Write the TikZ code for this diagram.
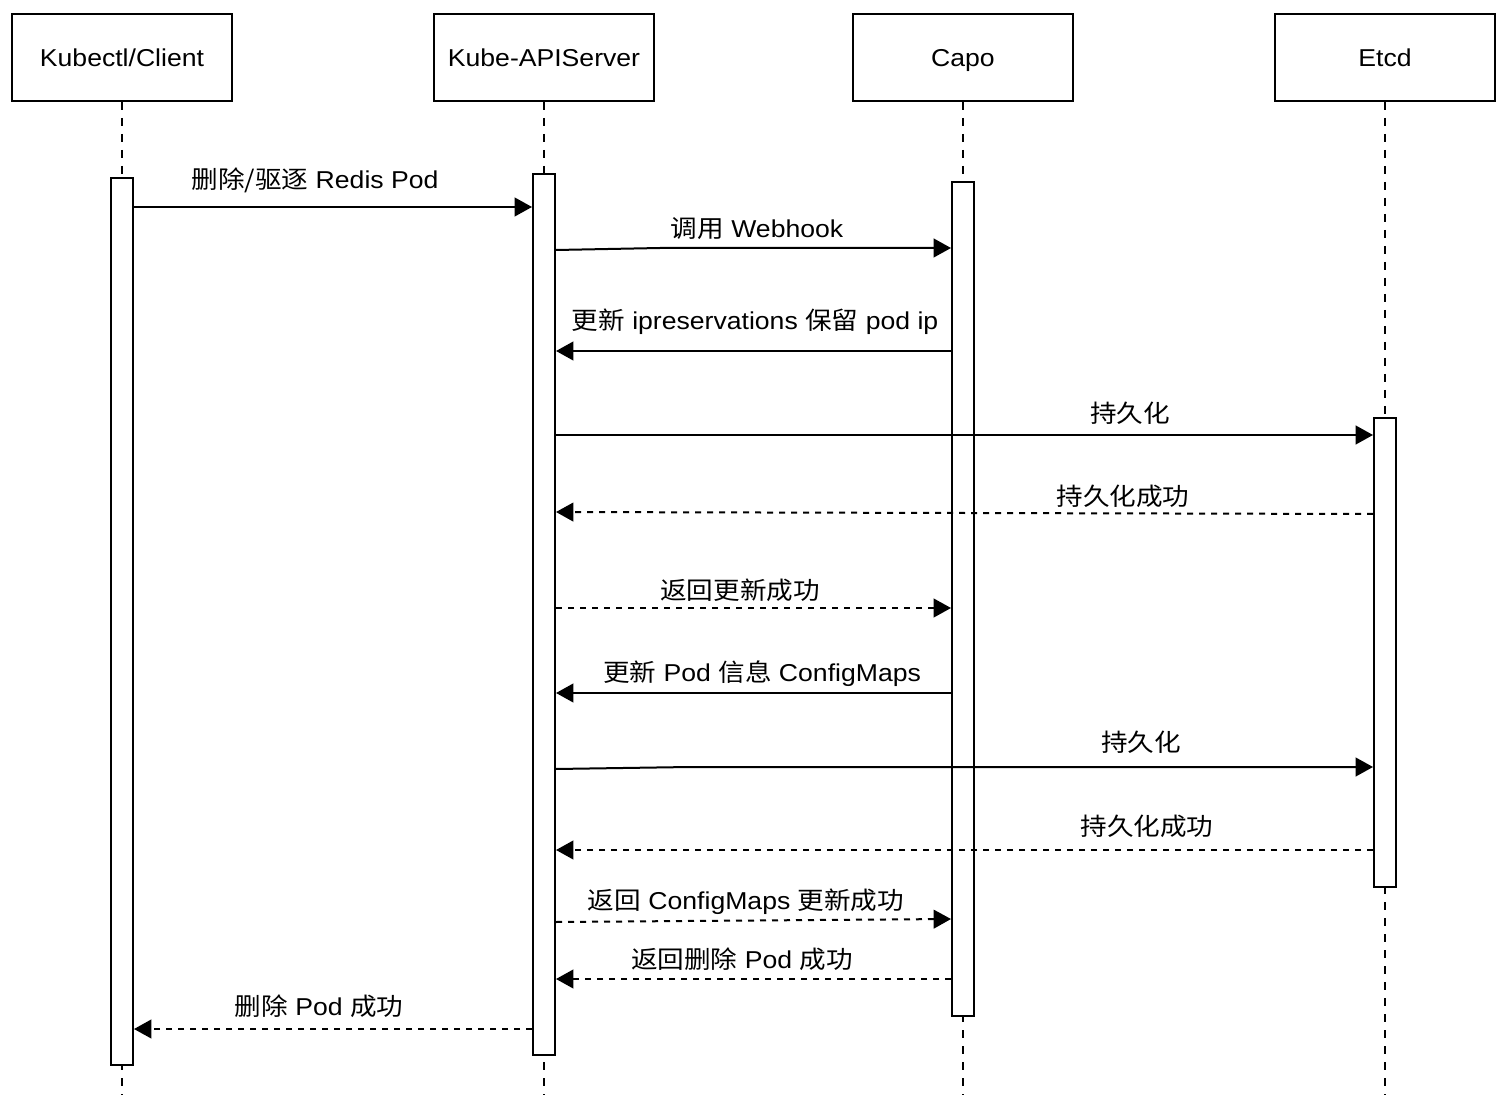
\documentclass[tikz,border=0pt]{standalone}
\usepackage{fontspec}
\setmainfont{Liberation Sans}[FakeStretch=1.09]
\newfontfamily\cjkfont{Noto Sans CJK SC}[FakeStretch=1.09]
\newcommand\zh[1]{{\cjkfont #1}}
\usetikzlibrary{arrows.meta}
\begin{document}
\begin{tikzpicture}[x=0.75pt,y=-0.75pt,
  every node/.style={font=\fontsize{18.3pt}{22pt}\selectfont},
  actor/.style={draw,line width=1.5pt,minimum width=165pt,minimum height=65.25pt,inner sep=0pt,text depth=0pt},
  bar/.style={draw,fill=white,line width=1.5pt,minimum width=16.5pt,inner sep=0pt},
  life/.style={line width=1.2pt,dash pattern=on 6pt off 6pt},
  msg/.style={line width=1.5pt,-{Triangle[length=13pt,width=14pt]}},
  ret/.style={msg,dash pattern=on 4.5pt off 4.5pt},
  lbl/.style={anchor=base,inner sep=0pt}
]
\useasboundingbox[fill=white] (0,0) rectangle (1500,1112);

% participants
\node[actor] (actA) at (122,57.5) {Kubectl/Client};
\node[actor] (actB) at (544,57.5) {Kube-APIServer};
\node[actor] (actC) at (963,57.5) {Capo};
\node[actor] (actD) at (1385,57.5) {Etcd};

% lifeline ends
\coordinate (endA) at (122,1095);
\coordinate (endB) at (544,1095);
\coordinate (endC) at (963,1095);
\coordinate (endD) at (1385,1095);
\draw[life] (actA.south) -- (endA);
\draw[life] (actB.south) -- (endB);
\draw[life] (actC.south) -- (endC);
\draw[life] (actD.south) -- (endD);

% activation bars
\node[bar,minimum height=665.25pt] (barA) at (122,621.5) {};
\node[bar,minimum height=660.75pt] (barB) at (544,614.5) {};
\node[bar,minimum height=625.5pt] (barC) at (963,599) {};
\node[bar,minimum height=351.75pt] (barD) at (1385,652.5) {};

% messages
\draw[msg] (barA.east |- 0,207) -- (barB.west |- 0,207);
\node[lbl] (l1) at (315,189) {\zh{删除/驱逐} Redis Pod};

\draw[msg] (barB.east |- 0,250) -- (660,248) -- (barC.west |- 0,248);
\node[lbl] (l2) at (757,238) {\zh{调用} Webhook};

\draw[msg] (barC.west |- 0,351) -- (barB.east |- 0,351);
\node[lbl] (l3) at (755,330) {\zh{更新} ipreservations \zh{保留} pod ip};

\draw[msg] (barB.east |- 0,435) -- (barD.west |- 0,435);
\node[lbl] (l4) at (1130,423) {\zh{持久化}};

\draw[ret] (barD.west |- 0,514) -- (barB.east |- 0,512);
\node[lbl] (l5) at (1123,505) {\zh{持久化成功}};

\draw[ret] (barB.east |- 0,608) -- (barC.west |- 0,608);
\node[lbl] (l6) at (740,599) {\zh{返回更新成功}};

\draw[msg] (barC.west |- 0,693) -- (barB.east |- 0,693);
\node[lbl] (l7) at (762,681) {\zh{更新} Pod \zh{信息} ConfigMaps};

\draw[msg] (barB.east |- 0,769) -- (690,767) -- (barD.west |- 0,767);
\node[lbl] (l8) at (1141,751) {\zh{持久化}};

\draw[ret] (barD.west |- 0,850) -- (barB.east |- 0,850);
\node[lbl] (l9) at (1147,835) {\zh{持久化成功}};

\draw[ret] (barB.east |- 0,922) -- (barC.west |- 0,919);
\node[lbl] (l10) at (746,909) {\zh{返回} ConfigMaps \zh{更新成功}};

\draw[ret] (barC.west |- 0,979) -- (barB.east |- 0,979);
\node[lbl] (l11) at (742,968) {\zh{返回删除} Pod \zh{成功}};

\draw[ret] (barB.west |- 0,1029) -- (barA.east |- 0,1029);
\node[lbl] (l12) at (319,1015) {\zh{删除} Pod \zh{成功}};
\end{tikzpicture}
\end{document}
